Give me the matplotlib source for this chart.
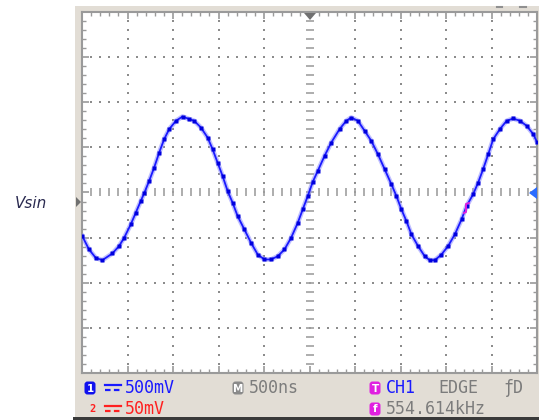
import matplotlib
matplotlib.use("Agg")
import matplotlib.pyplot as plt
from matplotlib.patches import Rectangle, FancyBboxPatch, Polygon
import numpy as np

# ---- data (time in ns from left edge, CH1 voltage in mV) ----
time_ns = [3, 77, 151, 224, 334, 407, 463, 536, 591, 646, 683, 738, 793, 848, 903,
           958, 1032, 1105, 1178, 1233, 1307, 1380, 1435, 1490, 1545, 1600, 1655,
           1710, 1784, 1858, 1931, 2004, 2078, 2151, 2225, 2298, 2371, 2426, 2481,
           2536, 2591, 2665, 2739, 2830, 2904, 2959, 3032, 3106, 3179, 3252, 3326,
           3400, 3455, 3510, 3565, 3620, 3693, 3766, 3821, 3877, 3950, 4023, 4097,
           4171, 4226, 4298, 4353, 4408, 4464, 4519, 4592, 4666, 4739, 4813, 4886,
           4959, 5000]
volt_mV = [-483, -631, -724, -750, -675, -594, -502, -353, -224, -94, -9, 128, 276,
           442, 591, 702, 794, 842, 813, 794, 720, 609, 480, 331, 183, 17, -113,
           -261, -409, -558, -687, -742, -742, -706, -631, -502, -336, -187, -39,
           118, 239, 405, 553, 702, 794, 831, 794, 683, 572, 424, 258, 91, -39,
           -187, -317, -464, -594, -706, -750, -750, -687, -594, -464, -298, -150,
           -20, 109, 258, 424, 591, 702, 794, 820, 794, 739, 647, 560]

ch1_label = "500mV"
ch2_label = "50mV"
timebase_label = "500ns"
trig_source = "CH1"
trig_mode = "EDGE"
freq_label = "554.614kHz"
signal_name = "Vsin"

W, H = 539, 420
BEIGE = "#e2ddd5"
GRID = "#8c8c8c"
BLUE = "#1a1aff"
RED = "#ff2020"
GRAYT = "#7c7c7c"
MAG = "#e020e0"

fig = plt.figure(figsize=(W / 100, H / 100), dpi=100)

# background layer
bg = fig.add_axes([0, 0, 1, 1], zorder=0)
bg.set_xlim(0, W)
bg.set_ylim(H, 0)
bg.axis("off")
bg.add_patch(Rectangle((75, 6), W - 75, 412, color=BEIGE, lw=0))
bg.add_patch(Rectangle((73, 417), W - 73, 3, color="#3a3a3a", lw=0))
bg.plot([497, 502], [7, 7], color="#909090", lw=1.5)
bg.plot([520, 526], [7, 7], color="#909090", lw=1.5)

# scope screen
L, R, T, B = 82, 537, 12, 373
ax = fig.add_axes([L / W, 1 - B / H, (R - L) / W, (B - T) / H], zorder=1)
ax.set_facecolor("white")
xmax, ymin, ymax = 5000, -2000, 2000
ax.set_xlim(0, xmax)
ax.set_ylim(ymin, ymax)
for s in ax.spines.values():
    s.set_color("#9a9a9a")
    s.set_linewidth(1.5)
ax.set_xticks(np.arange(0, xmax + 1, 500))
ax.set_yticks(np.arange(ymin, ymax + 1, 500))
ax.set_xticks(np.arange(0, xmax + 1, 100), minor=True)
ax.set_yticks(np.arange(ymin, ymax + 1, 100), minor=True)
ax.tick_params(which="both", direction="in", top=True, right=True,
               labelbottom=False, labelleft=False, color="#9a9a9a")
ax.tick_params(which="major", length=5, width=1.2)
ax.tick_params(which="minor", length=3, width=1.0)

# dotted graticule
fx = np.arange(100, xmax, 100)
fy = np.arange(ymin + 100, ymax, 100)
for gx in range(500, xmax, 500):
    if gx == 2500:
        continue
    ax.scatter(np.full(len(fy), gx), fy, s=1.6, color=GRID, marker="s", lw=0, zorder=2)
for gy in range(ymin + 500, ymax, 500):
    if gy == 0:
        continue
    ax.scatter(fx, np.full(len(fx), gy), s=1.6, color=GRID, marker="s", lw=0, zorder=2)
# centre lines with short dashes
ax.scatter(fx, np.zeros(len(fx)), s=36, marker="|", color="#a0a0a0", lw=1.2, zorder=2)
ax.scatter(np.full(len(fy), 2500), fy, s=36, marker="_", color="#a0a0a0", lw=1.2, zorder=2)

# waveform
ax.plot(time_ns, volt_mV, color="#8c8cff", lw=3.4, alpha=0.55, zorder=3,
        solid_joinstyle="round")
ax.plot(time_ns, volt_mV, color=BLUE, lw=1.3, zorder=4, solid_joinstyle="round",
        marker="s", ms=2.6, mec="none", mfc="#0000dd")

# overlay layer (pixel coordinates)
ov = fig.add_axes([0, 0, 1, 1], zorder=3)
ov.set_xlim(0, W)
ov.set_ylim(H, 0)
ov.axis("off")
ov.patch.set_visible(False)

# markers
ov.add_patch(Polygon([[304, 13], [316, 13], [310, 20]], closed=True, color="#707070", lw=0))
ov.add_patch(Polygon([[537, 187], [537, 199], [529, 193]], closed=True, color="#2a6cff", lw=0))
ov.add_patch(Polygon([[76, 197], [76, 207], [81, 202]], closed=True, color="#707070", lw=0))
ov.plot([469, 466, 466, 464], [203, 204, 212, 213], color=MAG, lw=1.4)

ov.text(31, 203, signal_name, fontsize=11, style="italic", color="#2a2a50",
        ha="center", va="center", family="DejaVu Sans")


def badge(cx, cy, ch, color):
    ov.add_patch(FancyBboxPatch((cx - 5, cy - 6), 10, 12,
                                boxstyle="round,pad=0.5,rounding_size=3",
                                color=color, lw=0))
    ov.text(cx, cy + 0.5, ch, fontsize=7.5, color="white", ha="center",
            va="center", weight="bold", family="DejaVu Sans")


def dc_sym(x0, cy, color):
    ov.plot([x0, x0 + 16], [cy - 2.5, cy - 2.5], color=color, lw=1.6)
    ov.plot([x0, x0 + 16], [cy + 2.5, cy + 2.5], color=color, lw=1.6, ls=(0, (2.5, 1.5)))


mono = "DejaVu Sans Mono"
r1, r2 = 388, 409
badge(90, r1, "1", "#1010ee")
dc_sym(105, r1 - 1, BLUE)
ov.text(125, r1, ch1_label, fontsize=12, color=BLUE, family=mono, va="center", ha="left")
badge(238, r1, "M", "#8a8a8a")
ov.text(249, r1, timebase_label, fontsize=12, color=GRAYT, family=mono, va="center", ha="left")
badge(375, r1, "T", MAG)
ov.text(386, r1, trig_source, fontsize=12, color=BLUE, family=mono, va="center", ha="left")
ov.text(438, r1, trig_mode, fontsize=12, color=GRAYT, family=mono, va="center", ha="left")
ov.text(503, r1, "ƒD", fontsize=12, color=GRAYT, family=mono, va="center", ha="left")

ov.text(92, r2, "2", fontsize=7.5, color=RED, family=mono, va="center", ha="center", weight="bold")
dc_sym(105, r2 - 1, RED)
ov.text(125, r2, ch2_label, fontsize=12, color=RED, family=mono, va="center", ha="left")
badge(375, r2, "f", MAG)
ov.text(386, r2, freq_label, fontsize=12, color=GRAYT, family=mono, va="center", ha="left")

fig.savefig("out.png", dpi=100)
